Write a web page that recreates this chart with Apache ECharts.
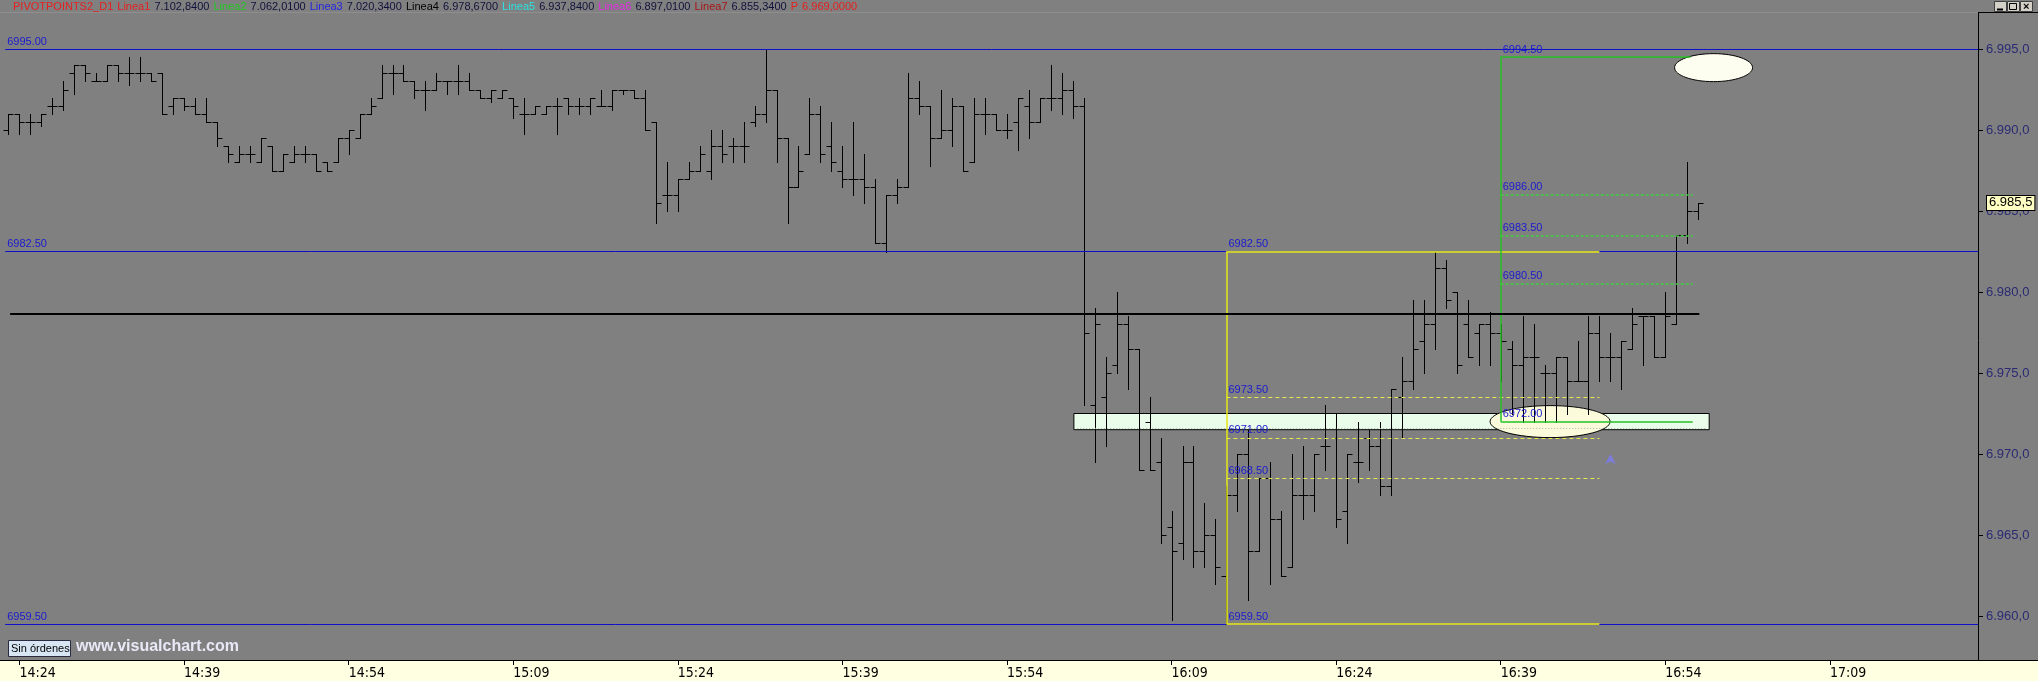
<!DOCTYPE html>
<html>
<head>
<meta charset="utf-8">
<script src="https://cdn.jsdelivr.net/npm/echarts@6/dist/echarts.min.js"></script>
<style>
  html, body { margin: 0; padding: 0; background: #808080; }
  #chart { width: 2038px; height: 681px; }
</style>
</head>
<body>
<div id="chart"></div>
<script>
// one bar per minute, first bar at 14:23
const times = [];
for (let i = 0; i < 180; i++) {
  const t = 14 * 60 + 23 + i;
  times.push(Math.floor(t / 60) + ':' + String(t % 60).padStart(2, '0'));
}
const tickTimes = ['14:24', '14:39', '14:54', '15:09', '15:24', '15:39', '15:54', '16:09', '16:24', '16:39', '16:54', '17:09'];

const opens = [
  6990.0, 6991.0, 6990.5, 6990.5, 6991.5, 6991.5, 6993.5, 6994.0, 6993.0, 6993.0,
  6994.0, 6993.5, 6993.5, 6993.5, 6993.5, 6991.5, 6992.0, 6991.5, 6991.0, 6990.5,
  6989.0, 6988.0, 6988.5, 6988.0, 6989.0, 6987.5, 6988.0, 6988.5, 6988.5, 6988.0,
  6988.0, 6989.5, 6989.5, 6991.0, 6992.0, 6993.5, 6993.5, 6993.0, 6992.5, 6992.5,
  6993.0, 6993.0, 6993.0, 6992.5, 6992.0, 6992.0, 6992.0, 6991.0, 6991.0, 6991.0,
  6991.5, 6992.0, 6991.5, 6991.5, 6991.5, 6991.5, 6992.5, 6992.5, 6992.0, 6990.5,
  6986.0, 6986.0, 6987.0, 6987.5, 6987.5, 6989.0, 6989.0, 6989.0, 6990.5, 6991.0,
  6992.5, 6989.5, 6986.5, 6988.5, 6991.0, 6989.0, 6987.5, 6987.0, 6987.0, 6986.5,
  6983.0, 6986.0, 6986.5, 6992.0, 6991.5, 6989.5, 6990.0, 6991.5, 6988.0, 6991.0,
  6991.0, 6990.0, 6990.5, 6991.5, 6990.5, 6992.0, 6992.0, 6992.5, 6991.5, 6973.0,
  6973.5, 6975.5, 6978.0, 6976.5, 6972.0, 6969.5, 6965.5, 6964.5, 6969.5, 6964.0,
  6965.0, 6962.5, 6967.5, 6970.0, 6964.0, 6968.5, 6966.0, 6963.0, 6967.5, 6967.5,
  6970.5, 6971.0, 6966.5, 6969.5, 6971.0, 6970.5, 6968.0, 6973.5, 6974.5, 6977.0,
  6978.0, 6981.5, 6980.0, 6978.0, 6977.5, 6978.0, 6977.5, 6976.5, 6975.5, 6976.0,
  6975.0, 6975.0, 6976.0, 6974.5, 6974.5, 6977.5, 6976.0, 6976.0, 6976.5, 6978.5,
  6978.5, 6976.0, 6978.0, 6983.5, 6985.0
];
const highs = [
  6991.0, 6991.0, 6991.0, 6991.0, 6992.0, 6993.0, 6994.0, 6994.0, 6993.5, 6994.0,
  6994.0, 6994.5, 6994.5, 6993.5, 6993.5, 6992.0, 6992.0, 6992.0, 6992.0, 6990.5,
  6989.0, 6989.0, 6989.0, 6989.5, 6989.0, 6988.5, 6989.0, 6989.0, 6988.5, 6988.0,
  6989.5, 6990.0, 6991.0, 6992.0, 6994.0, 6994.0, 6994.0, 6993.0, 6993.0, 6993.5,
  6993.0, 6994.0, 6993.5, 6992.5, 6992.5, 6992.5, 6992.0, 6992.0, 6991.5, 6991.5,
  6992.0, 6992.0, 6992.0, 6992.0, 6992.5, 6992.5, 6992.5, 6992.5, 6992.5, 6990.5,
  6988.0, 6987.0, 6988.0, 6989.0, 6990.0, 6990.0, 6989.5, 6990.5, 6991.5, 6995.0,
  6992.5, 6989.5, 6989.0, 6992.0, 6991.5, 6990.5, 6989.0, 6990.5, 6988.5, 6987.0,
  6986.0, 6987.0, 6993.5, 6993.0, 6991.5, 6992.5, 6992.0, 6991.5, 6992.0, 6992.0,
  6991.0, 6991.0, 6992.0, 6992.5, 6992.0, 6994.0, 6993.5, 6993.0, 6992.0, 6979.0,
  6976.0, 6980.0, 6978.5, 6976.5, 6973.5, 6971.0, 6966.5, 6970.5, 6970.5, 6967.0,
  6966.0, 6968.0, 6970.0, 6971.5, 6968.5, 6969.5, 6966.5, 6970.0, 6970.5, 6970.0,
  6973.0, 6972.5, 6970.0, 6972.0, 6971.5, 6972.0, 6974.0, 6976.0, 6979.5, 6979.5,
  6982.5, 6982.0, 6980.0, 6979.5, 6978.0, 6978.75, 6978.0, 6977.0, 6978.5, 6978.0,
  6975.5, 6976.0, 6976.0, 6977.0, 6978.5, 6978.5, 6977.5, 6977.0, 6979.0, 6978.5,
  6978.5, 6980.0, 6983.5, 6988.0, 6985.5
];
const lows = [
  6989.75, 6989.75, 6989.75, 6990.25, 6991.0, 6991.25, 6992.25, 6993.0, 6993.0, 6993.0,
  6993.0, 6992.75, 6993.0, 6993.0, 6991.0, 6991.0, 6991.25, 6991.0, 6990.5, 6989.0,
  6988.0, 6988.0, 6988.0, 6988.0, 6987.5, 6987.5, 6988.0, 6988.0, 6987.5, 6987.5,
  6988.0, 6988.5, 6989.5, 6991.0, 6992.0, 6992.25, 6993.0, 6992.0, 6991.25, 6992.5,
  6992.25, 6992.25, 6992.5, 6992.0, 6991.75, 6992.0, 6990.75, 6989.75, 6991.0, 6991.0,
  6989.75, 6991.0, 6991.0, 6991.0, 6991.5, 6991.25, 6992.25, 6992.0, 6990.0, 6984.25,
  6985.0, 6985.0, 6987.0, 6987.5, 6987.0, 6988.0, 6988.0, 6988.0, 6990.25, 6990.5,
  6988.0, 6984.25, 6986.5, 6988.5, 6988.0, 6987.5, 6986.5, 6986.0, 6985.5, 6983.0,
  6982.5, 6985.5, 6986.5, 6991.0, 6987.75, 6989.5, 6989.0, 6987.5, 6988.0, 6989.75,
  6990.0, 6989.5, 6988.75, 6989.5, 6990.5, 6991.25, 6991.0, 6990.75, 6973.0, 6969.5,
  6970.5, 6975.0, 6974.0, 6969.0, 6969.0, 6964.5, 6959.75, 6963.5, 6963.0, 6963.0,
  6962.0, 6959.5, 6966.5, 6961.0, 6964.0, 6962.0, 6962.5, 6963.0, 6966.0, 6966.5,
  6969.0, 6965.5, 6964.5, 6968.25, 6969.0, 6967.5, 6967.5, 6971.0, 6974.0, 6975.0,
  6976.5, 6979.0, 6975.0, 6976.0, 6975.5, 6975.5, 6974.5, 6972.5, 6972.0, 6972.0,
  6972.0, 6972.0, 6972.5, 6974.5, 6972.5, 6974.5, 6974.5, 6974.0, 6976.5, 6975.5,
  6976.0, 6976.0, 6978.0, 6983.0, 6984.5
];
const closes = [
  6991.0, 6990.5, 6990.5, 6991.0, 6991.5, 6992.5, 6994.0, 6993.5, 6993.0, 6994.0,
  6993.5, 6993.5, 6993.5, 6993.0, 6991.0, 6992.0, 6991.5, 6991.0, 6990.5, 6989.5,
  6988.5, 6988.5, 6988.5, 6989.5, 6987.5, 6988.5, 6988.5, 6988.5, 6987.5, 6987.5,
  6989.5, 6990.0, 6991.0, 6991.5, 6993.5, 6993.5, 6993.0, 6992.5, 6992.5, 6993.0,
  6993.0, 6993.0, 6992.5, 6992.0, 6992.5, 6992.5, 6991.5, 6991.0, 6991.5, 6991.5,
  6991.5, 6991.5, 6991.5, 6992.0, 6991.5, 6992.5, 6992.5, 6992.0, 6990.0, 6985.5,
  6986.0, 6987.0, 6987.5, 6988.5, 6989.0, 6988.5, 6989.0, 6989.0, 6991.0, 6992.5,
  6989.5, 6986.5, 6987.5, 6991.0, 6988.5, 6988.0, 6987.0, 6987.0, 6986.5, 6983.0,
  6986.0, 6986.5, 6992.0, 6991.5, 6989.5, 6990.0, 6991.5, 6987.5, 6991.0, 6991.0,
  6990.0, 6990.0, 6992.0, 6990.5, 6992.0, 6992.0, 6992.5, 6991.5, 6977.5, 6978.0,
  6975.0, 6978.0, 6976.5, 6969.0, 6969.0, 6965.0, 6964.0, 6969.5, 6964.0, 6965.0,
  6963.0, 6967.5, 6970.0, 6964.0, 6968.5, 6966.0, 6962.5, 6967.5, 6967.5, 6970.0,
  6970.5, 6966.0, 6970.0, 6969.5, 6970.5, 6968.0, 6974.0, 6974.5, 6976.5, 6978.0,
  6981.5, 6979.5, 6975.5, 6976.0, 6978.0, 6977.5, 6977.0, 6975.5, 6976.0, 6976.0,
  6975.0, 6976.0, 6974.5, 6974.5, 6977.5, 6976.0, 6976.0, 6977.0, 6978.0, 6978.5,
  6976.0, 6978.5, 6983.5, 6985.0, 6985.5
];

// drawn levels (price) and where they run (bar index)
const blueLevels = [6995.0, 6982.5, 6959.5];
const fiboRange = [6982.5, 6959.5];
const fiboLevels = [6973.5, 6971.0, 6968.5];
const fiboBars = [111, 145];
const greenRange = [6994.5, 6972.0];
const greenLevels = [6986.0, 6983.5, 6980.5];
const greenBars = [136, 153.5];
const pivotLevel = 6978.67;
const zoneRange = [6972.5, 6971.5];
const zoneBars = [97.1, 155];
const lastPrice = 6985.5;
const ellipseSpots = [[155.4, 6993.85], [140.5, 6972.0]];
const arrowSpot = [146, 6970.0];

const header = [
  ['PIVOTPOINTS2_D1', 'r'], ['Linea1', 'r'], ['7.102,8400', 'n'],
  ['Linea2', 'g'], ['7.062,0100', 'n'], ['Linea3', 'b'], ['7.020,3400', 'n'],
  ['Linea4', 'k'], ['6.978,6700', 'n'], ['Linea5', 'c'], ['6.937,8400', 'n'],
  ['Linea6', 'm'], ['6.897,0100', 'n'], ['Linea7', 'd'], ['6.855,3400', 'n'],
  ['P', 'r'], ['6.969,0000', 'r']
];

const bars = opens.map((o, i) => [i, o, highs[i], lows[i], closes[i]]);

const BLUE = '#1010cc';
const YELLOW = '#e6e61a';
const GREEN = '#24c224';
const LABEL = { show: true, position: 'insideStartTop', color: '#1a1ad0', fontSize: 11, fontFamily: 'Liberation Sans, Arial', distance: 2 };
const fmt = v => v.toFixed(2);

function seg(x0, x1, y, color, opts) {
  opts = opts || {};
  return [
    { coord: [x0, y], lineStyle: { color: color, width: opts.width || 1, type: opts.type || 'solid' },
      label: opts.label ? Object.assign({}, LABEL, { formatter: opts.label }) : { show: false } },
    { coord: [x1, y] }
  ];
}
function vseg(x, y0, y1, color) {
  return [
    { coord: [x, y0], lineStyle: { color: color, width: 1.5, type: 'solid' }, label: { show: false } },
    { coord: [x, y1] }
  ];
}

const lines = [];
lines.push(seg(-0.3, 179.5, blueLevels[0], BLUE, { label: fmt(blueLevels[0]) }));
[blueLevels[1], blueLevels[2]].forEach(v => {
  lines.push(seg(-0.3, fiboBars[0], v, BLUE, { label: fmt(v) }));
  lines.push(seg(fiboBars[0], fiboBars[1], v, YELLOW, { width: 1.5, label: fmt(v) }));
  lines.push(seg(fiboBars[1], 179.5, v, BLUE));
});
fiboLevels.forEach(v => lines.push(seg(fiboBars[0], fiboBars[1], v, '#e8e850', { type: [4, 3], label: fmt(v) })));
lines.push(vseg(fiboBars[0], fiboRange[0], fiboRange[1], YELLOW));
lines.push(vseg(greenBars[0], greenRange[0], greenRange[1], GREEN));
lines.push(seg(greenBars[0], 153.3, greenRange[0], GREEN, { width: 1.5, label: fmt(greenRange[0]) }));
greenLevels.forEach(v => lines.push(seg(greenBars[0], greenBars[1], v, '#3fd03f', { type: [3, 2], width: 1.5, label: fmt(v) })));
lines.push(seg(greenBars[0], greenBars[1], greenRange[1], GREEN, { width: 1.5, label: fmt(greenRange[1]) }));
lines.push(seg(0.15, 154.1, pivotLevel, '#000', { width: 2 }));
lines.push(seg(zoneBars[0] + 0.3, zoneBars[1] - 0.3, 6971.62, '#aab8aa', { type: [1, 2] }));

function renderBar(params, api) {
  const x = api.value(0);
  const o = api.coord([x, api.value(1)]);
  const h = api.coord([x, api.value(2)]);
  const l = api.coord([x, api.value(3)]);
  const c = api.coord([x, api.value(4)]);
  const s = v => Math.round(v) + 0.5;
  const px = s(o[0]);
  const st = { stroke: '#000', lineWidth: 1 };
  return {
    type: 'group',
    children: [
      { type: 'line', shape: { x1: px, y1: s(h[1]) - 0.5, x2: px, y2: s(l[1]) + 0.5 }, style: st },
      { type: 'line', shape: { x1: px - 5, y1: s(o[1]), x2: px, y2: s(o[1]) }, style: st },
      { type: 'line', shape: { x1: px, y1: s(c[1]), x2: px + 5, y2: s(c[1]) }, style: st }
    ]
  };
}

function renderEllipse(params, api) {
  const p = api.coord([api.value(0), api.value(1)]);
  const big = params.dataIndex === 1;
  return {
    type: 'ellipse',
    shape: { cx: p[0], cy: p[1], rx: big ? 60 : 39, ry: big ? 16 : 14 },
    style: { fill: big ? '#fbfbdc' : '#fdfdf0', stroke: '#000', lineWidth: 1 }
  };
}

const chart = echarts.init(document.getElementById('chart'));
const fontUi = 'Liberation Sans, Arial, sans-serif';

const tok = c => ({ fill: c, color: c, padding: [0, 1, 0, 0] });
const rich = {
  r: tok('#e42020'), n: tok('#10103c'), g: tok('#22c822'), b: tok('#2424e0'),
  k: tok('#000'), c: tok('#2ce0e0'), m: tok('#e02ce0'), d: tok('#a81414')
};

const winButton = (x, z) => ({ type: 'rect', z: z, shape: { x: x + 0.5, y: 1.5, width: 12, height: 10 },
  style: { fill: '#d4d0c8', stroke: '#404040', lineWidth: 1 } });

chart.setOption({
  backgroundColor: '#808080',
  animation: false,
  grid: [
    { left: 3, right: 60, top: -32, bottom: -16, outerBoundsMode: 'none', containLabel: false },
    { left: 3, right: 60, top: 659, bottom: 21, outerBoundsMode: 'none', containLabel: false }
  ],
  xAxis: [
    { type: 'value', gridIndex: 0, min: -0.5, max: 179.5, show: false },
    {
      type: 'category', gridIndex: 1, data: times, boundaryGap: true, z: 5,
      axisLine: { show: true, lineStyle: { color: '#000', width: 1 } },
      axisTick: { show: true, alignWithLabel: true, length: 5, lineStyle: { color: '#000' },
        interval: (i, v) => tickTimes.includes(v) },
      axisLabel: { show: true, align: 'left', color: '#000', fontSize: 14, margin: 6,
        fontFamily: '"Liberation Sans Narrow", "DejaVu Sans Condensed", "Liberation Sans", Arial',
        interval: (i, v) => tickTimes.includes(v) },
      splitLine: { show: false }
    }
  ],
  yAxis: [
    {
      type: 'value', gridIndex: 0, position: 'right', min: 6955, max: 7000, interval: 5,
      axisLine: { show: true, onZero: false, lineStyle: { color: '#000', width: 1 } },
      axisTick: { show: true, length: 5, lineStyle: { color: '#000' } },
      axisLabel: { color: '#2a2a74', fontSize: 13, margin: 8, fontFamily: fontUi,
        formatter: v => { const t = v.toFixed(1).replace('.', ','); return t[0] + '.' + t.slice(1); } },
      splitLine: { show: false }
    },
    { type: 'value', gridIndex: 1, show: false }
  ],
  graphic: [
    { type: 'rect', z: 10, shape: { x: 0, y: 0, width: 2038, height: 12 }, style: { fill: '#808080' } },
    { type: 'line', z: 10, shape: { x1: 0, y1: 12.5, x2: 1978, y2: 12.5 }, style: { stroke: '#8e8e8e', lineWidth: 1 } },
    { type: 'line', z: 10, shape: { x1: 1978, y1: 12.5, x2: 2038, y2: 12.5 }, style: { stroke: '#000', lineWidth: 1 } },
    { type: 'text', z: 11, x: 13, y: 1, style: {
        text: header.map(h => '{' + h[1] + '|' + h[0] + '}').join(' '),
        rich: rich, fontSize: 11, fontFamily: fontUi } },
    winButton(1994, 11), winButton(2007, 11), winButton(2020, 11),
    { type: 'line', z: 12, shape: { x1: 1997, y1: 9.5, x2: 2003, y2: 9.5 }, style: { stroke: '#000', lineWidth: 2 } },
    { type: 'rect', z: 12, shape: { x: 2009.5, y: 3.5, width: 7, height: 6 }, style: { fill: 'none', stroke: '#000', lineWidth: 1 } },
    { type: 'text', z: 12, x: 2023, y: 1, style: { text: '×', fontSize: 11, fill: '#000', fontWeight: 'bold', fontFamily: fontUi } },
    { type: 'rect', z: 3, shape: { x: 0, y: 660, width: 2038, height: 21 }, style: { fill: '#ffffe1' } },
    { type: 'line', z: 4, shape: { x1: 0, y1: 660.5, x2: 2038, y2: 660.5 }, style: { stroke: '#000', lineWidth: 1 } },
    { type: 'rect', z: 4, shape: { x: 8.5, y: 640.5, width: 62, height: 16 }, style: { fill: '#d8e6f4', stroke: '#2a2a40', lineWidth: 1 } },
    { type: 'text', z: 5, x: 11, y: 643, style: { text: 'Sin órdenes', fontSize: 11, fill: '#000', fontFamily: fontUi } },
    { type: 'text', z: 4, x: 76, y: 639, style: { text: 'www.visualchart.com', fontSize: 16, fontWeight: 'bold', fill: '#e8e8f6', fontFamily: fontUi } }
  ],
  series: [
    {
      name: 'zone', type: 'line', xAxisIndex: 0, yAxisIndex: 0, data: [], z: 1, silent: true,
      markArea: {
        silent: true,
        itemStyle: { color: '#eafcea', borderColor: '#000', borderWidth: 1 },
        data: [[{ coord: [zoneBars[0], zoneRange[0]] }, { coord: [zoneBars[1], zoneRange[1]] }]]
      }
    },
    {
      name: 'ellipses', type: 'custom', xAxisIndex: 0, yAxisIndex: 0, z: 2, silent: true,
      renderItem: renderEllipse, data: ellipseSpots
    },
    {
      name: 'levels', type: 'line', xAxisIndex: 0, yAxisIndex: 0, data: [], z: 3, silent: true,
      markLine: { silent: true, symbol: ['none', 'none'], precision: 2, data: lines }
    },
    {
      name: 'OHLC', type: 'custom', xAxisIndex: 0, yAxisIndex: 0, z: 4,
      renderItem: renderBar, encode: { x: 0, y: [1, 2, 3, 4] }, data: bars
    },
    {
      name: 'signal', type: 'scatter', xAxisIndex: 0, yAxisIndex: 0, z: 5, silent: true,
      symbol: 'arrow', symbolSize: [8, 10], itemStyle: { color: '#7a7af4' }, data: [arrowSpot]
    },
    {
      name: 'last', type: 'line', xAxisIndex: 0, yAxisIndex: 0, data: [], z: 6, silent: true,
      markLine: {
        silent: true, symbol: ['none', 'none'],
        lineStyle: { color: 'rgba(0,0,0,0)', width: 1 },
        label: { show: true, position: 'end', distance: 9, formatter: '6.985,5', color: '#000',
          fontSize: 13, fontFamily: fontUi, backgroundColor: '#ffffc4', borderColor: '#000', borderWidth: 1, padding: [1, 2, 0, 2] },
        data: [{ yAxis: lastPrice }]
      }
    }
  ]
});
</script>
</body>
</html>
